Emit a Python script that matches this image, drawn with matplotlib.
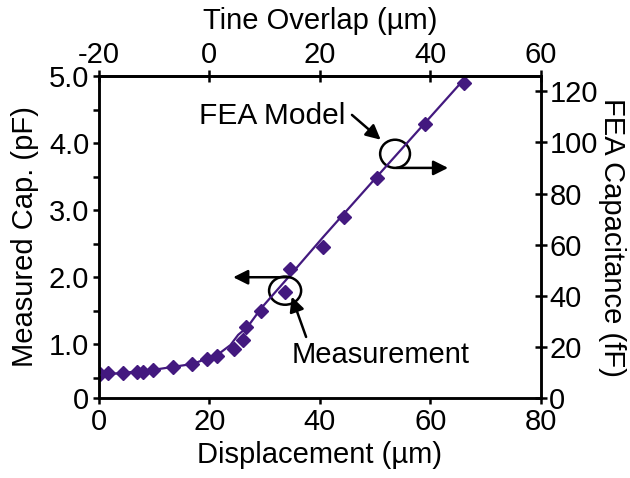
import matplotlib
matplotlib.use("Agg")
import matplotlib.pyplot as plt
from matplotlib.patches import Ellipse
from matplotlib.ticker import MultipleLocator, FixedLocator

plt.rcParams['font.family'] = ['Liberation Sans', 'DejaVu Sans']
plt.rcParams['font.size'] = 21
plt.rcParams['axes.unicode_minus'] = False

# measured capacitance (pF) vs displacement (um)
meas_disp = [0.2, 1.6, 4.4, 6.9, 8.0, 9.8, 13.4, 16.9, 19.6, 21.4, 24.5,
             26.1, 26.7, 29.4, 33.7, 34.6, 40.5, 44.3, 50.4, 59.1, 66.0]
meas_pf = [0.56, 0.57, 0.57, 0.59, 0.59, 0.62, 0.66, 0.71, 0.78, 0.83, 0.93,
           1.07, 1.26, 1.50, 1.78, 2.12, 2.45, 2.90, 3.48, 4.28, 4.90]

# FEA model capacitance (fF) vs displacement (um)
fea_disp = [0, 4.2, 9.8, 16.9, 21.4, 23.8, 25.2, 26.9, 29.4, 34.6, 40.6, 50.6, 66.0]
fea_ff = [9.0, 9.8, 11.0, 13.3, 16.8, 20.7, 24.7, 27.8, 35.2, 48.0, 63.0, 87.3, 124.5]

purple = '#43197f'

fig = plt.figure(figsize=(6.3, 4.78), dpi=100)
ax = fig.add_axes([0.157, 0.1674, 0.7016, 0.6736])
ax2 = ax.twinx()

ax.plot(meas_disp, meas_pf, linestyle='none', marker='D', markersize=7.5,
        color=purple)
ax2.plot(fea_disp, fea_ff, color=purple, lw=1.6)

ax.set_xlim(0, 80)
ax.set_ylim(0.2, 5.0)
ax2.set_ylim(0, 126)

ax.xaxis.set_major_locator(MultipleLocator(20))
ax.yaxis.set_major_locator(FixedLocator([0.2, 1, 2, 3, 4, 5]))
ax.set_yticklabels(['0', '1.0', '2.0', '3.0', '4.0', '5.0'])
ax.yaxis.set_minor_locator(FixedLocator([0.5, 1.5, 2.5, 3.5, 4.5]))
ax2.yaxis.set_major_locator(MultipleLocator(20))

secax = ax.secondary_xaxis('top', functions=(lambda x: x - 20, lambda x: x + 20))
secax.set_xticks([-20, 0, 20, 40, 60])
secax.set_xlabel('Tine Overlap (µm)', labelpad=9)

ax.set_xlabel('Displacement (µm)', labelpad=4)
ax.set_ylabel('Measured Cap. (pF)', labelpad=7)
ax2.set_ylabel('FEA Capacitance (fF)', rotation=270, labelpad=10,
               va='center')

for a in (ax, ax2, secax):
    for s in a.spines.values():
        s.set_linewidth(1.8)
ax.tick_params(axis='x', which='both', direction='out', length=4, width=1.8, pad=3)
ax.tick_params(axis='y', which='both', direction='out', length=4, width=1.8, pad=3)
ax2.tick_params(axis='y', direction='inout', length=8, width=1.8, pad=2)
secax.tick_params(direction='inout', length=8, width=1.8, pad=1)

# annotations (in displacement / pF coordinates)
tr = ax.transData
arrow = dict(arrowstyle='-|>', mutation_scale=22, lw=1.8, color='k',
             shrinkA=0, shrinkB=0)
ax2.add_patch(Ellipse((53.6, 3.84), 5.4, 0.42, transform=tr, fill=False,
                      lw=1.8, color='k'))
ax2.add_patch(Ellipse((33.7, 1.80), 5.8, 0.42, transform=tr, fill=False,
                      lw=1.8, color='k'))
ax2.annotate('FEA Model', xy=(31.3, 4.40), xycoords=tr, ha='center',
             va='center', fontsize=21.5)
ax2.annotate('', xy=(51.0, 4.05), xytext=(45.8, 4.42), xycoords=tr,
             textcoords=tr, arrowprops=arrow)
ax2.annotate('', xy=(63.2, 3.63), xytext=(53.9, 3.63), xycoords=tr,
             textcoords=tr, arrowprops=arrow)
ax2.annotate('', xy=(24.3, 2.0), xytext=(34.6, 2.0), xycoords=tr,
             textcoords=tr, arrowprops=arrow)
ax2.annotate('', xy=(34.9, 1.71), xytext=(37.5, 1.11), xycoords=tr,
             textcoords=tr, arrowprops=arrow)
ax2.annotate('Measurement', xy=(50.9, 0.84), xycoords=tr, ha='center',
             va='center')

fig.savefig('out.png', dpi=100)
